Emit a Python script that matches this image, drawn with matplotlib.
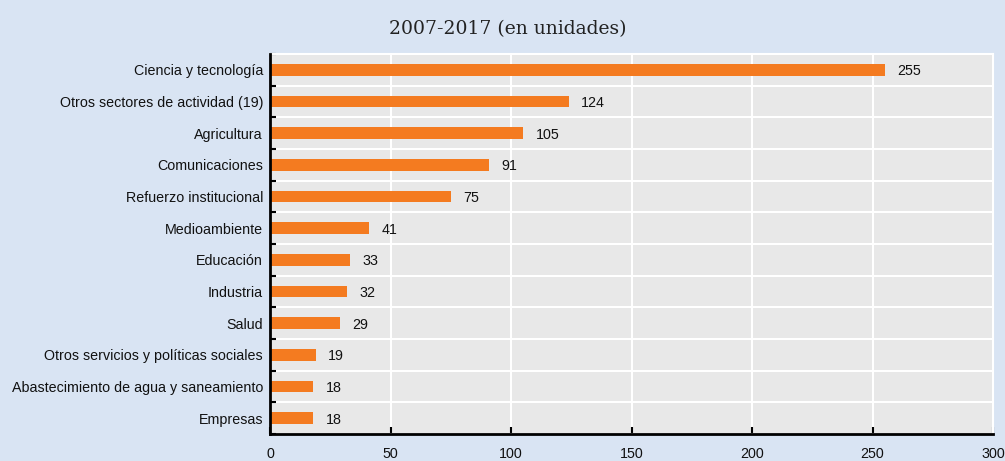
import matplotlib
matplotlib.use("Agg")
import matplotlib.pyplot as plt
import numpy as np
from matplotlib.ticker import FixedLocator

categories = ["Ciencia y tecnología", "Otros sectores de actividad (19)", "Agricultura",
              "Comunicaciones", "Refuerzo institucional", "Medioambiente", "Educación",
              "Industria", "Salud", "Otros servicios y políticas sociales",
              "Abastecimiento de agua y saneamiento", "Empresas"]
values = [255, 124, 105, 91, 75, 41, 33, 32, 29, 19, 18, 18]
xticks = [0, 50, 100, 150, 200, 250, 300]
title = "2007-2017 (en unidades)"

BG = "#d9e4f3"
AXBG = "#e8e8e8"
BAR = "#f47b20"
lab_font = ["Liberation Sans", "DejaVu Sans"]
FS = 10.3

fig = plt.figure(figsize=(10.05, 4.61), dpi=100, facecolor=BG)
ax = fig.add_axes([270/1005, 27/461, 723/1005, 380/461])
ax.set_facecolor(AXBG)

n = len(categories)
y = np.arange(n)
ax.barh(y, values, height=0.36, color=BAR, zorder=3)
ax.set_ylim(n - 0.5, -0.5)
ax.set_xlim(0, 300)

ax.set_yticks(y)
ax.set_yticklabels(categories, fontfamily=lab_font, fontsize=FS, color="#111111")
ax.yaxis.set_minor_locator(FixedLocator(np.arange(-0.5, n, 1.0)))
ax.tick_params(axis="y", which="major", length=0, pad=5)
ax.tick_params(axis="y", which="minor", direction="in", length=4, width=1.5, color="black")
ax.grid(axis="y", which="minor", color="white", linewidth=1.5, zorder=1)

ax.set_xticks(xticks)
ax.set_xticklabels([str(t) for t in xticks], fontfamily=lab_font, fontsize=FS, color="#111111")
ax.tick_params(axis="x", direction="in", length=5, width=1.5, color="black", pad=9)
ax.grid(axis="x", which="major", color="white", linewidth=1.5, zorder=1)
ax.set_axisbelow(True)

for s in ["top", "right"]:
    ax.spines[s].set_color("white")
    ax.spines[s].set_linewidth(1.5)
for s in ["left", "bottom"]:
    ax.spines[s].set_color("black")
    ax.spines[s].set_linewidth(2)
    ax.spines[s].set_zorder(5)

for yi, v in zip(y, values):
    ax.annotate(str(v), (v, yi), xytext=(9, -1), textcoords="offset points",
                va="center", ha="left", fontfamily=lab_font, fontsize=FS, color="#111111")

fig.text(508/1005, 1 - 29/461, title, ha="center", va="center",
         fontfamily=["DejaVu Serif"], fontsize=13.5, color="#222222")

fig.savefig("out.png", dpi=100, facecolor=BG)
